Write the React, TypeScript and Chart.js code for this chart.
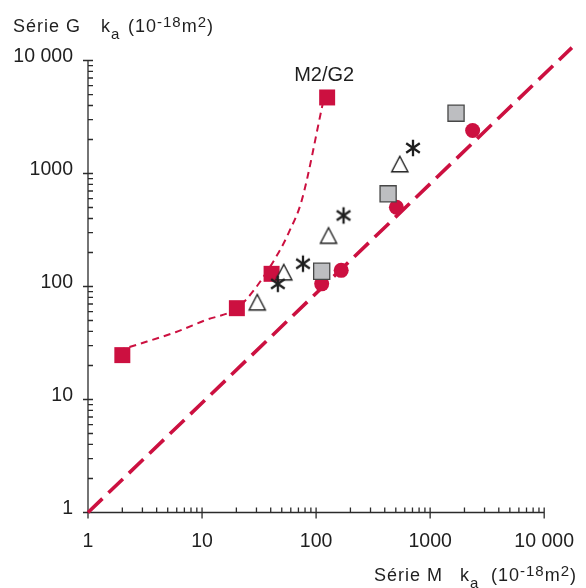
import React, { useEffect, useRef } from "react";
import { Chart, registerables } from "chart.js";

Chart.register(...registerables);

const CRIMSON = "#CC1040";
const INK = "#1f1f1f";

// Scale extents (axes drawn only up to 10 000, the diagonal runs past it)
const X_MAX = 18000;
const Y_MAX = 14000;

// Tick values and labels
const majorTicks = [1, 10, 100, 1000, 10000];
const tickLabels = ["1", "10", "100", "1000", "10 000"];
const minorMultipliers = [2, 3, 4, 5, 6, 7, 8, 9];
const decades = [1, 10, 100, 1000];

// Diagonal reference line
const diagX = [1, 17500];
const diagY = [1, 13000];

// Thin dashed M2/G2 curve
const curveX = [1.83, 2.84, 5.85, 10.5, 20.2, 27.6, 47.1, 57.6, 74.8, 114];
const curveY = [27.2, 31.1, 39.4, 50, 64.3, 89, 201, 300, 577, 4080];

// Series
const m2g2X = [2.0, 20.2, 40.7, 125];
const m2g2Y = [24.7, 64.3, 129.5, 4710];

const circleX = [112, 166, 506, 2358];
const circleY = [105.6, 139, 503, 2404];

const graySqX = [112, 428, 1687];
const graySqY = [136.5, 661, 3418];

const triX = [30.5, 52.1, 128.5, 542];
const triY = [72.6, 134, 283, 1213];

const starX = [46.2, 76.7, 174, 707];
const starY = [105.6, 159, 425, 1682];

const pts = (xs: number[], ys: number[]) => xs.map((x, i) => ({ x, y: ys[i] }));

function makeTriangle() {
  const c = document.createElement("canvas");
  c.width = 20;
  c.height = 20;
  const ctx = c.getContext("2d")!;
  ctx.beginPath();
  ctx.moveTo(10, 2.2);
  ctx.lineTo(18.1, 17.7);
  ctx.lineTo(1.9, 17.7);
  ctx.closePath();
  ctx.fillStyle = "#ffffff";
  ctx.fill();
  ctx.strokeStyle = INK;
  ctx.lineWidth = 1.4;
  ctx.stroke();
  return c;
}

function makeStar() {
  const c = document.createElement("canvas");
  c.width = 20;
  c.height = 20;
  const ctx = c.getContext("2d")!;
  ctx.strokeStyle = INK;
  ctx.lineWidth = 2.3;
  ctx.lineCap = "butt";
  const r = 8.3;
  ctx.beginPath();
  for (const a of [90, 35, 145]) {
    const rad = (a * Math.PI) / 180;
    ctx.moveTo(10 - Math.cos(rad) * r, 10 - Math.sin(rad) * r);
    ctx.lineTo(10 + Math.cos(rad) * r, 10 + Math.sin(rad) * r);
  }
  ctx.stroke();
  return c;
}

type Seg = { t: string; size: number; dy?: number; x?: number };

function drawRich(ctx: CanvasRenderingContext2D, segs: Seg[], baseline: number) {
  let x = 0;
  for (const s of segs) {
    if (s.x !== undefined) x = s.x;
    ctx.font = `${s.size}px "Liberation Sans", Arial, sans-serif`;
    ctx.fillText(s.t, x, baseline + (s.dy || 0));
    x += ctx.measureText(s.t).width;
  }
}

const axesPlugin = {
  id: "customAxes",
  beforeDatasetsDraw(chart: any) {
    const ctx: CanvasRenderingContext2D = chart.ctx;
    const xs = chart.scales.x;
    const ys = chart.scales.y;
    const x0 = xs.getPixelForValue(1);
    const x1 = xs.getPixelForValue(10000);
    const y0 = ys.getPixelForValue(1);
    const y1 = ys.getPixelForValue(10000);
    ctx.save();
    ctx.strokeStyle = "#2b2b2b";
    ctx.lineWidth = 1.3;
    ctx.beginPath();
    ctx.moveTo(x0, y0);
    ctx.lineTo(x1, y0);
    ctx.moveTo(x0, y0);
    ctx.lineTo(x0, y1);
    for (const d of decades) {
      for (const m of minorMultipliers) {
        const v = m * d;
        const px = xs.getPixelForValue(v);
        ctx.moveTo(px, y0);
        ctx.lineTo(px, y0 - 5);
        const py = ys.getPixelForValue(v);
        ctx.moveTo(x0, py);
        ctx.lineTo(x0 + 5, py);
      }
    }
    for (const v of majorTicks) {
      const px = xs.getPixelForValue(v);
      ctx.moveTo(px, y0 - 5);
      ctx.lineTo(px, y0 + 6);
      const py = ys.getPixelForValue(v);
      ctx.moveTo(x0 - 5, py);
      ctx.lineTo(x0 + 5, py);
    }
    ctx.stroke();

    ctx.fillStyle = INK;
    ctx.font = '19.5px "Liberation Sans", Arial, sans-serif';
    ctx.textBaseline = "alphabetic";
    majorTicks.forEach((v, i) => {
      ctx.textAlign = "right";
      ctx.fillText(tickLabels[i], 73, ys.getPixelForValue(v) + 1);
      ctx.textAlign = "center";
      ctx.fillText(tickLabels[i], xs.getPixelForValue(v), 547);
    });

    ctx.textAlign = "left";
    (ctx as any).letterSpacing = "1px";
    drawRich(
      ctx,
      [
        { t: "Série G", size: 18, x: 13 },
        { t: "k", size: 18, x: 101 },
        { t: "a", size: 15, dy: 7 },
        { t: "(10", size: 18, x: 128 },
        { t: "-18", size: 15, dy: -5 },
        { t: "m", size: 18 },
        { t: "2", size: 15, dy: -5 },
        { t: ")", size: 18 },
      ],
      32
    );
    drawRich(
      ctx,
      [
        { t: "Série M", size: 18, x: 374 },
        { t: "k", size: 18, x: 460 },
        { t: "a", size: 15, dy: 7 },
        { t: "(10", size: 18, x: 491 },
        { t: "-18", size: 15, dy: -5 },
        { t: "m", size: 18 },
        { t: "2", size: 15, dy: -5 },
        { t: ")", size: 18 },
      ],
      581
    );
    (ctx as any).letterSpacing = "0px";
    ctx.restore();
  },
  afterDatasetsDraw(chart: any) {
    const ctx: CanvasRenderingContext2D = chart.ctx;
    const xs = chart.scales.x;
    const ys = chart.scales.y;
    const last = m2g2X.length - 1;
    const px = xs.getPixelForValue(m2g2X[last]);
    const py = ys.getPixelForValue(m2g2Y[last]);
    ctx.save();
    ctx.fillStyle = INK;
    ctx.font = '20px "Liberation Sans", Arial, sans-serif';
    ctx.textAlign = "center";
    ctx.textBaseline = "alphabetic";
    ctx.fillText("M2/G2", px - 3, py - 16);
    ctx.restore();
  },
};

export default function App() {
  const ref = useRef<HTMLCanvasElement | null>(null);

  useEffect(() => {
    if (!ref.current) return;
    const tri = makeTriangle();
    const star = makeStar();
    const chart = new Chart(ref.current, {
      type: "line",
      data: {
        datasets: [
          {
            label: "star",
            data: pts(starX, starY),
            showLine: false,
            pointStyle: star as any,
            pointRadius: 8,
            clip: false as any,
          },
          {
            label: "triangle",
            data: pts(triX, triY),
            showLine: false,
            pointStyle: tri as any,
            pointRadius: 8,
            clip: false as any,
          },
          {
            label: "gray",
            data: pts(graySqX, graySqY),
            showLine: false,
            pointStyle: "rect",
            pointRadius: 11.4,
            pointBackgroundColor: "#BDBEC1",
            pointBorderColor: "#474747",
            pointBorderWidth: 1.3,
            clip: false as any,
          },
          {
            label: "M2/G2",
            data: pts(m2g2X, m2g2Y),
            showLine: false,
            pointStyle: "rect",
            pointRadius: 11.3,
            pointBackgroundColor: CRIMSON,
            pointBorderColor: CRIMSON,
            pointBorderWidth: 0,
            clip: false as any,
          },
          {
            label: "circles",
            data: pts(circleX, circleY),
            showLine: false,
            pointStyle: "circle",
            pointRadius: 7.5,
            pointBackgroundColor: CRIMSON,
            pointBorderColor: CRIMSON,
            pointBorderWidth: 0,
            clip: false as any,
          },
          {
            label: "curve",
            data: pts(curveX, curveY),
            showLine: true,
            borderColor: CRIMSON,
            borderWidth: 2,
            borderDash: [7, 5],
            cubicInterpolationMode: "monotone",
            pointRadius: 0,
            fill: false,
            clip: false as any,
          },
          {
            label: "diag",
            data: pts(diagX, diagY),
            showLine: true,
            borderColor: CRIMSON,
            borderWidth: 3.6,
            borderDash: [20, 8.4],
            pointRadius: 0,
            fill: false,
            clip: false as any,
          },
        ],
      },
      options: {
        animation: false,
        responsive: false,
        devicePixelRatio: 1,
        layout: { padding: { left: 88, right: 9.7, top: 44, bottom: 75.5 } },
        plugins: {
          legend: { display: false },
          tooltip: { enabled: false },
          title: { display: false },
        },
        scales: {
          x: { type: "logarithmic", min: 1, max: X_MAX, display: false },
          y: { type: "logarithmic", min: 1, max: Y_MAX, display: false },
        },
      },
      plugins: [axesPlugin],
    });
    return () => chart.destroy();
  }, []);

  return (
    <div style={{ position: "absolute", left: 0, top: 0, width: 586, height: 588, background: "#fff" }}>
      <canvas ref={ref} width={586} height={588} style={{ display: "block" }} />
    </div>
  );
}
